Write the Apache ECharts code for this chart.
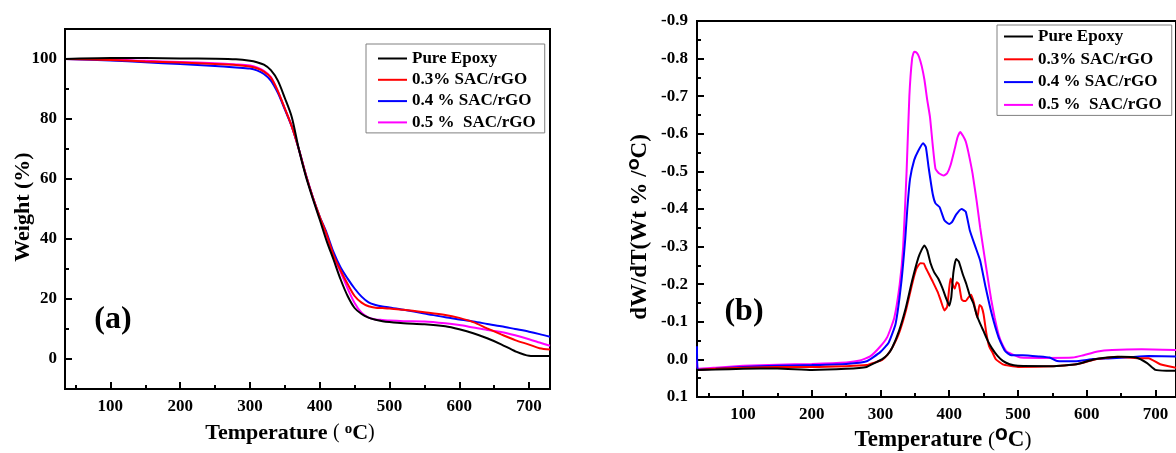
<!DOCTYPE html>
<html>
<head>
<meta charset="utf-8">
<script src="https://cdn.jsdelivr.net/npm/echarts@6/dist/echarts.min.js"></script>
<style>
html,body{margin:0;padding:0;background:#fff;}
#chart{width:1176px;height:453px;}
</style>
</head>
<body>
<div id="chart"></div>
<script>
// ---------- DATA ----------
var seriesNames = ['Pure Epoxy', '0.3% SAC/rGO', '0.4 % SAC/rGO', '0.5 %  SAC/rGO'];
var seriesColors = ['#000000', '#ff0000', '#0000ff', '#ff00ff'];

// (a) TGA: weight (%) vs temperature (°C)
var tgaTemp = [35, 100, 150, 200, 250, 280, 300, 310, 320, 330, 340, 350, 360, 370, 380, 390, 400, 410, 420, 430, 440, 450, 460, 470, 480, 490, 500, 520, 550, 580, 600, 620, 640, 660, 680, 700, 715, 730];
var tgaPure = [100, 100.3, 100.3, 100.2, 100.1, 99.9, 99.4, 98.9, 98.1, 96.3, 92.8, 87, 80.6, 70, 61, 53.5, 46.5, 39.3, 33, 26.5, 21, 17, 15, 13.8, 13.1, 12.6, 12.3, 11.9, 11.6, 10.9, 9.9, 8.6, 6.9, 4.9, 2.6, 1.1, 1.0, 1.0];
var tga03 = [100, 99.7, 99.2, 98.8, 98.3, 98.0, 97.5, 96.9, 95.8, 93.8, 89.3, 83.5, 77.5, 70, 61.5, 54, 47.5, 41.5, 34.5, 29.5, 25, 21, 18.8, 17.6, 17.1, 17, 16.8, 16.4, 15.6, 14.7, 13.7, 12.3, 10.2, 8.2, 6.3, 4.8, 3.6, 3.2];
var tga04 = [100, 99.5, 98.9, 98.3, 97.7, 97.2, 96.8, 96.2, 95.0, 92.8, 88.7, 83.2, 77.5, 70, 61.5, 54, 47.5, 42, 35.5, 30.5, 26.8, 23.5, 20.8, 18.9, 18, 17.5, 17.2, 16.4, 15.2, 13.9, 13.2, 12.5, 11.7, 10.9, 10.0, 9.1, 8.3, 7.4];
var tga05 = [100, 99.8, 99.4, 99.0, 98.6, 98.2, 97.8, 97.2, 96.1, 94, 89.3, 83.5, 77.5, 70, 61.5, 54, 47, 41, 34, 29, 23.5, 18.7, 15.4, 13.8, 13.2, 13, 12.8, 12.6, 12.5, 11.9, 11.3, 10.5, 9.7, 9.0, 7.9, 6.6, 5.5, 4.4];

// (b) DTG: dW/dT (Wt %/°C) vs temperature, [temperature, value]
var dtgPure = [[33,0.028],[60,0.027],[100,0.025],[150,0.024],[200,0.028],[250,0.025],[280,0.02],[292,0.009],[302,0.0],[310,-0.012],[317,-0.031],[327,-0.076],[337,-0.138],[346,-0.209],[355,-0.27],[360,-0.292],[364,-0.303],[368,-0.29],[373,-0.255],[378,-0.232],[384,-0.215],[390,-0.19],[396,-0.16],[400,-0.143],[403,-0.165],[406,-0.23],[410,-0.267],[414,-0.26],[420,-0.225],[425,-0.2],[430,-0.17],[435,-0.15],[440,-0.118],[445,-0.095],[450,-0.075],[456,-0.05],[462,-0.03],[470,-0.01],[478,0.004],[488,0.013],[500,0.017],[550,0.018],[585,0.013],[610,0.0],[630,-0.005],[650,-0.007],[672,-0.005],[688,0.01],[700,0.028],[716,0.03],[730,0.03]];
var dtg03 = [[33,0.028],[60,0.025],[100,0.022],[150,0.02],[200,0.02],[250,0.018],[280,0.015],[292,0.008],[302,0.002],[310,-0.012],[317,-0.031],[327,-0.07],[337,-0.13],[346,-0.2],[352,-0.24],[358,-0.256],[363,-0.255],[366,-0.243],[371,-0.225],[376,-0.207],[383,-0.18],[388,-0.155],[393,-0.13],[397,-0.14],[400,-0.19],[402,-0.215],[405,-0.2],[408,-0.188],[411,-0.205],[414,-0.2],[418,-0.16],[421,-0.155],[424,-0.155],[428,-0.165],[432,-0.172],[436,-0.15],[439,-0.125],[441,-0.11],[444,-0.145],[447,-0.14],[450,-0.12],[454,-0.07],[458,-0.035],[463,-0.018],[468,0.0],[478,0.013],[488,0.017],[500,0.02],[550,0.018],[585,0.013],[615,-0.001],[645,-0.007],[675,-0.003],[690,-0.003],[707,0.013],[730,0.022]];
var dtg04 = [[33,-0.035],[34,0.028],[60,0.025],[100,0.02],[150,0.017],[200,0.015],[250,0.012],[280,0.005],[300,-0.02],[312,-0.045],[322,-0.095],[330,-0.2],[336,-0.32],[339,-0.4],[343,-0.48],[349,-0.53],[355,-0.555],[362,-0.575],[366,-0.565],[370,-0.511],[376,-0.44],[380,-0.415],[386,-0.405],[393,-0.37],[400,-0.36],[404,-0.365],[410,-0.385],[418,-0.4],[424,-0.393],[430,-0.343],[438,-0.3],[445,-0.263],[453,-0.192],[462,-0.12],[472,-0.058],[481,-0.023],[490,-0.011],[507,-0.011],[530,-0.008],[546,-0.005],[557,0.004],[583,0.005],[610,-0.001],[637,-0.003],[663,-0.006],[690,-0.009],[730,-0.008]];
var dtg05 = [[33,0.0],[34,0.025],[60,0.022],[100,0.017],[150,0.014],[200,0.012],[250,0.008],[270,0.003],[285,-0.008],[300,-0.035],[310,-0.06],[320,-0.11],[328,-0.2],[333,-0.3],[338,-0.5],[342,-0.7],[346,-0.8],[349,-0.818],[353,-0.815],[356,-0.805],[360,-0.78],[364,-0.743],[368,-0.69],[372,-0.645],[376,-0.57],[380,-0.507],[385,-0.495],[392,-0.489],[397,-0.495],[402,-0.517],[408,-0.56],[412,-0.59],[416,-0.605],[420,-0.595],[424,-0.58],[428,-0.55],[434,-0.494],[440,-0.42],[445,-0.351],[450,-0.29],[456,-0.218],[461,-0.16],[466,-0.112],[472,-0.065],[477,-0.041],[483,-0.022],[490,-0.015],[504,-0.005],[540,-0.004],[580,-0.005],[593,-0.01],[616,-0.021],[637,-0.025],[680,-0.027],[730,-0.025]];

// ---------- CHART ----------
var FONT = '"Liberation Serif", "Times New Roman", serif';
var chart = echarts.init(document.getElementById('chart'), null, {renderer: 'canvas'});

function zip(xs, ys) { return xs.map(function (x, i) { return [x, ys[i]]; }); }

var tgaData = [tgaPure, tga03, tga04, tga05];
var dtgData = [dtgPure, dtg03, dtg04, dtg05];

var series = [];
tgaData.forEach(function (vals, i) {
  series.push({
    name: seriesNames[i], type: 'line', xAxisIndex: 0, yAxisIndex: 0,
    data: zip(tgaTemp, vals), showSymbol: false, symbol: 'none',
    smooth: 0.3,
    lineStyle: {color: seriesColors[i], width: 2}, itemStyle: {color: seriesColors[i]}, z: 10 - i
  });
});
dtgData.forEach(function (vals, i) {
  series.push({
    name: seriesNames[i], type: 'line', xAxisIndex: 1, yAxisIndex: 1,
    data: vals, showSymbol: false, symbol: 'none',
    smooth: 0.15,
    lineStyle: {color: seriesColors[i], width: 2}, itemStyle: {color: seriesColors[i]}, z: 10 - i
  });
});

function axisCommon() {
  return {
    axisLine: {show: true, onZero: false, lineStyle: {color: '#000', width: 2}},
    axisTick: {show: true, inside: true, length: 7, lineStyle: {color: '#000', width: 2}},
    minorTick: {show: true, splitNumber: 2, length: 4, lineStyle: {color: '#000', width: 2}},
    splitLine: {show: false},
    minorSplitLine: {show: false},
    axisLabel: {color: '#000', fontFamily: FONT, fontWeight: 'bold', fontSize: 17, margin: 9}
  };
}

var xa0 = axisCommon();
Object.assign(xa0, {type: 'value', gridIndex: 0, min: 35, max: 730, splitNumber: 7});
xa0.axisLabel.showMinLabel = false; xa0.axisLabel.showMaxLabel = false;
var ya0 = axisCommon();
Object.assign(ya0, {type: 'value', gridIndex: 0, min: -10, max: 110, splitNumber: 6});
ya0.axisLabel.showMinLabel = false; ya0.axisLabel.showMaxLabel = false; ya0.axisLabel.margin = 8;

var xa1 = axisCommon();
Object.assign(xa1, {type: 'value', gridIndex: 1, min: 33, max: 730, splitNumber: 7});
xa1.axisLabel.showMinLabel = false; xa1.axisLabel.showMaxLabel = false;
var ya1 = axisCommon();
Object.assign(ya1, {type: 'value', gridIndex: 1, min: -0.9, max: 0.1, splitNumber: 10, inverse: true});
ya1.axisLabel.margin = 9;
ya1.axisLabel.formatter = function (v) { return (Math.abs(v) < 1e-9 ? 0 : v).toFixed(1); };

function legendCfg(left, top, pad, gap) {
  return {
    show: true, orient: 'vertical', left: left, top: top,
    data: seriesNames, icon: 'rect', itemWidth: 29, itemHeight: 2,
    itemGap: gap, padding: pad,
    borderColor: '#808080', borderWidth: 1, backgroundColor: '#fff',
    selectedMode: false,
    textStyle: {color: '#000', fontFamily: FONT, fontWeight: 'bold', fontSize: 17, lineHeight: 17}
  };
}

var option = {
  animation: false,
  backgroundColor: '#ffffff',
  grid: [
    {left: 65, top: 29, width: 485, height: 360, show: true, borderColor: '#000', borderWidth: 2, containLabel: false},
    {left: 697, top: 21, width: 488, height: 376, show: true, borderColor: '#000', borderWidth: 2, containLabel: false}
  ],
  xAxis: [xa0, xa1],
  yAxis: [ya0, ya1],
  legend: [
    legendCfg(366, 44, [6, 9, 2, 12], 4.3),
    legendCfg(997, 25, [3, 10, 2, 7], 5.8)
  ],
  series: series,
  graphic: [
    {type: 'text', x: 290, y: 433, style: {
      text: '{a|Temperature }{p|( }{s|o}{a|C}{p|)}',
      align: 'center', verticalAlign: 'middle', fill: '#000',
      rich: {
        a: {fontFamily: FONT, fontWeight: 'bold', fontSize: 22, fill: '#000', color: '#000'},
        p: {fontFamily: FONT, fontWeight: 'normal', fontSize: 20, fill: '#000', color: '#000'},
        s: {fontFamily: FONT, fontWeight: 'bold', fontSize: 15, verticalAlign: 'top', fill: '#000', color: '#000'}
      }
    }},
    {type: 'text', x: 943, y: 440, style: {
      text: '{a|Temperature }{p|(}{s|O}{a|C}{p|)}',
      align: 'center', verticalAlign: 'middle', fill: '#000',
      rich: {
        a: {fontFamily: FONT, fontWeight: 'bold', fontSize: 23, fill: '#000', color: '#000'},
        p: {fontFamily: FONT, fontWeight: 'normal', fontSize: 21, fill: '#000', color: '#000'},
        s: {fontFamily: 'DejaVu Sans', fontWeight: 'bold', fontSize: 15, verticalAlign: 'top', fill: '#000', color: '#000'}
      }
    }},
    {type: 'text', x: 23, y: 207, rotation: Math.PI / 2, style: {
      text: 'Weight (%)', align: 'center', verticalAlign: 'middle', fill: '#000',
      font: 'bold 22px ' + FONT
    }},
    {type: 'text', x: 640, y: 227, rotation: Math.PI / 2, style: {
      text: '{a|dW/dT(Wt % /}{s|O}{a|C)}',
      align: 'center', verticalAlign: 'middle', fill: '#000',
      rich: {
        a: {fontFamily: FONT, fontWeight: 'bold', fontSize: 23, fill: '#000', color: '#000'},
        s: {fontFamily: 'DejaVu Sans', fontWeight: 'bold', fontSize: 14, verticalAlign: 'top', fill: '#000', color: '#000'}
      }
    }},
    {type: 'text', x: 113, y: 320, style: {
      text: '(a)', align: 'center', verticalAlign: 'middle', fill: '#000', font: 'bold 32px ' + FONT
    }},
    {type: 'text', x: 744, y: 312, style: {
      text: '(b)', align: 'center', verticalAlign: 'middle', fill: '#000', font: 'bold 32px ' + FONT
    }}
  ]
};
chart.setOption(option);
</script>
</body>
</html>
